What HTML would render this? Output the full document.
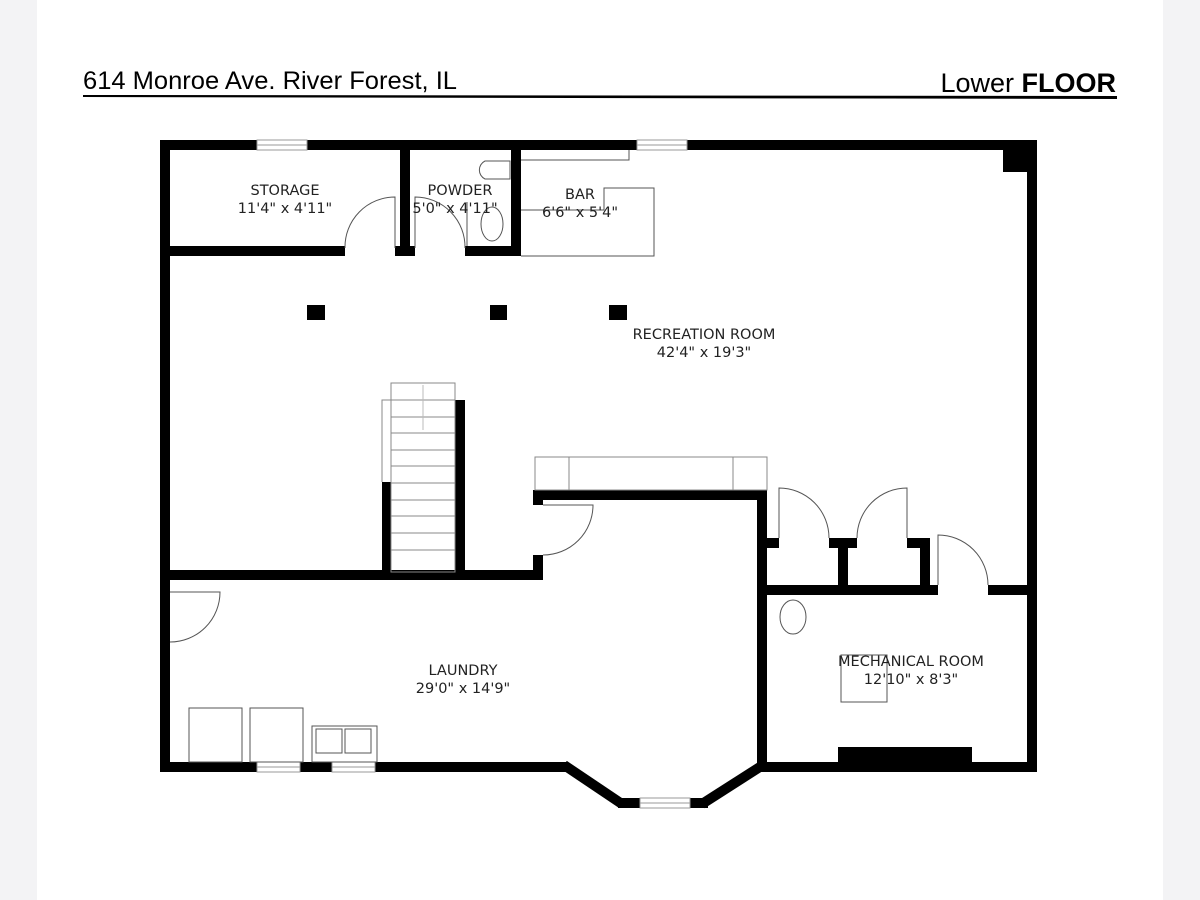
<!DOCTYPE html>
<html><head><style>
html,body{margin:0;padding:0;background:#f3f3f5;}
#p{position:relative;width:1200px;height:900px;background:#f3f3f5;overflow:hidden;}
#w{position:absolute;left:37px;top:0;width:1126px;height:900px;background:#fff;}
svg{position:absolute;left:0;top:0;}
</style></head><body><div id="p"><div id="w"></div>
<svg width="1200" height="900" viewBox="0 0 1200 900" font-family="'DejaVu Sans','Liberation Sans',sans-serif">
<text x="83" y="89" font-family="'Liberation Sans',sans-serif" font-size="25" textLength="374" lengthAdjust="spacingAndGlyphs">614 Monroe Ave. River Forest, IL</text>
<text x="1116" y="92" text-anchor="end" font-family="'Liberation Sans',sans-serif" font-size="27"><tspan>Lower </tspan><tspan font-weight="bold">FLOOR</tspan></text>
<polygon points="83,95 1117,96 1117,99 83,97" fill="#000"/>
<g fill="#000">
<rect x="160" y="140" width="877" height="10"/>
<rect x="160" y="140" width="10" height="632"/>
<rect x="1027" y="140" width="10" height="455"/>
<rect x="1003" y="140" width="34" height="32"/>
<rect x="170" y="246" width="175" height="10"/>
<rect x="395" y="246" width="20" height="10"/>
<rect x="465" y="246" width="56" height="10"/>
<rect x="400" y="150" width="10" height="106"/>
<rect x="511" y="150" width="10" height="106"/>
<rect x="307" y="305" width="18" height="15"/>
<rect x="490" y="305" width="17" height="15"/>
<rect x="609" y="305" width="18" height="15"/>
<rect x="455" y="400" width="10" height="178"/>
<rect x="382" y="482" width="9" height="96"/>
<rect x="170" y="570" width="373" height="10"/>
<rect x="533" y="490" width="10" height="15"/>
<rect x="533" y="555" width="10" height="25"/>
<rect x="533" y="490" width="234" height="10"/>
<rect x="757" y="490" width="10" height="282"/>
<rect x="767" y="538" width="12" height="10"/>
<rect x="829" y="538" width="28" height="10"/>
<rect x="907" y="538" width="23" height="10"/>
<rect x="838" y="538" width="10" height="57"/>
<rect x="920" y="538" width="10" height="57"/>
<rect x="767" y="585" width="171" height="10"/>
<rect x="988" y="585" width="49" height="10"/>
<rect x="1027" y="585" width="10" height="187"/>
<rect x="160" y="762" width="97" height="10"/>
<rect x="300" y="762" width="32" height="10"/>
<rect x="375" y="762" width="191" height="10"/>
<rect x="618" y="798" width="22" height="10"/>
<rect x="690" y="798" width="18" height="10"/>
<rect x="760" y="762" width="277" height="10"/>
<rect x="838" y="747" width="134" height="15"/>
</g>
<g stroke="#000" stroke-width="10">
<line x1="564" y1="765" x2="622" y2="804"/>
<line x1="702" y1="804" x2="763" y2="765"/>
</g>
<g fill="#fff" stroke="#999" stroke-width="1">
<rect x="257" y="140" width="50" height="10"/><line x1="257" y1="145" x2="307" y2="145"/>
<rect x="637" y="140" width="50" height="10"/><line x1="637" y1="145" x2="687" y2="145"/>
<rect x="257" y="762" width="43" height="10"/><line x1="257" y1="767" x2="300" y2="767"/>
<rect x="332" y="762" width="43" height="10"/><line x1="332" y1="767" x2="375" y2="767"/>
<rect x="640" y="798" width="50" height="10"/><line x1="640" y1="803" x2="690" y2="803"/>
</g>
<g fill="none" stroke="#555" stroke-width="1">
<path d="M395,248 V197 A50,50 0 0 0 345,248"/>
<path d="M415,248 V197 A50,50 0 0 1 465,248"/>
<path d="M170,592 H220 A50,50 0 0 1 170,642"/>
<path d="M543,505 H593 A50,50 0 0 1 543,555"/>
<path d="M779,538 V488 A50,50 0 0 1 829,538"/>
<path d="M907,538 V488 A50,50 0 0 0 857,538"/>
<path d="M938,585 V535 A50,50 0 0 1 988,585"/>
<path d="M521,160 H629 V150"/>
<path d="M521,210 H604 V188 H654 V256 H521"/>
<path d="M510,161 H485 A10,10 0 0 0 485,179 H510 Z"/>
<ellipse cx="492" cy="224" rx="11" ry="17"/>
<line x1="467" y1="202" x2="467" y2="246"/>
<rect x="391" y="383" width="64" height="189" stroke="#888"/>
<path d="M391,400 H382 V482" stroke="#888"/>
<g stroke="#888">
<line x1="391" y1="400" x2="455" y2="400"/><line x1="391" y1="417" x2="455" y2="417"/>
<line x1="391" y1="433" x2="455" y2="433"/><line x1="391" y1="450" x2="455" y2="450"/>
<line x1="391" y1="466" x2="455" y2="466"/><line x1="391" y1="483" x2="455" y2="483"/>
<line x1="391" y1="500" x2="455" y2="500"/><line x1="391" y1="516" x2="455" y2="516"/>
<line x1="391" y1="533" x2="455" y2="533"/><line x1="391" y1="550" x2="455" y2="550"/>
<line x1="423" y1="385" x2="423" y2="430" stroke="#bbb"/>
</g>
<rect x="535" y="457" width="232" height="33" stroke="#888"/>
<line x1="569" y1="457" x2="569" y2="490" stroke="#888"/>
<line x1="733" y1="457" x2="733" y2="490" stroke="#888"/>
<rect x="189" y="708" width="53" height="54"/>
<rect x="250" y="708" width="53" height="54"/>
<rect x="312" y="726" width="65" height="36"/>
<rect x="316" y="729" width="26" height="24"/>
<rect x="345" y="729" width="26" height="24"/>
<ellipse cx="793" cy="617" rx="13" ry="17"/>
<rect x="841" y="655" width="46" height="47"/>
</g>
<g font-size="14.5" text-anchor="middle" fill="#222">
<text x="285" y="195">STORAGE</text><text x="285" y="213">11'4" x 4'11"</text>
<text x="460" y="195">POWDER</text><text x="455" y="213">5'0" x 4'11"</text>
<text x="580" y="199">BAR</text><text x="580" y="217">6'6" x 5'4"</text>
<text x="704" y="339">RECREATION ROOM</text><text x="704" y="357">42'4" x 19'3"</text>
<text x="463" y="675">LAUNDRY</text><text x="463" y="693">29'0" x 14'9"</text>
<text x="911" y="666">MECHANICAL ROOM</text><text x="911" y="684">12'10" x 8'3"</text>
</g>
</svg></div></body></html>
